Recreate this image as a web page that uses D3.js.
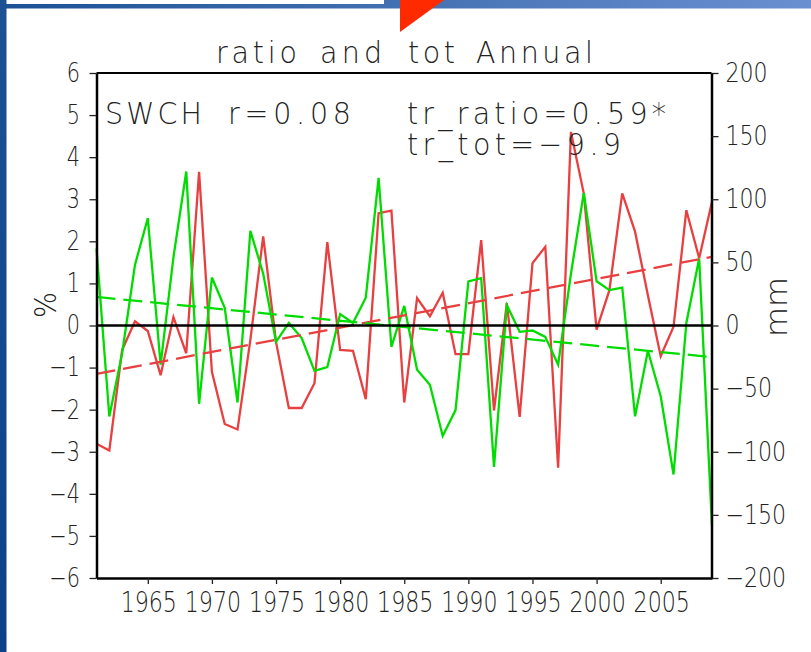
<!DOCTYPE html>
<html>
<head>
<meta charset="utf-8">
<script src="https://cdn.jsdelivr.net/npm/d3@7"></script>
<style>
html, body { margin: 0; padding: 0; background: #fff; }
svg { display: block; }
text { font-family: "DejaVu Sans"; font-weight: 200; fill: #222; }
</style>
</head>
<body>
<div id="plot"></div>
<script>
//values
var years = [1961,1962,1963,1964,1965,1966,1967,1968,1969,1970,
	1971,1972,1973,1974,1975,1976,1977,1978,1979,1980,
	1981,1982,1983,1984,1985,1986,1987,1988,1989,1990,
	1991,1992,1993,1994,1995,1996,1997,1998,1999,2000,
	2001,2002,2003,2004,2005,2006,2007,2008,2009];

//red, left axis (%)
var ratio = [-2.81,-2.97,-0.58,0.1,-0.13,-1.18,0.2,-0.66,3.65,-1.1,
	-2.34,-2.47,-0.34,2.12,-0.39,-1.96,-1.96,-1.37,1.98,-0.58,
	-0.6,-1.75,2.67,2.73,-1.83,0.65,0.22,0.78,-0.68,-0.68,
	2.03,-2.02,0.53,-2.17,1.48,1.87,-3.38,4.6,3.14,-0.1,
	0.84,3.14,2.23,0.72,-0.73,-0.03,2.74,1.6,2.94];

//green, right axis (mm)
var tot = [61,-72,-22,48,85,-31,54,122,-62,38,
	14,-61,75,41,-13,2,-10,-36,-33,9,
	2,22,117,-17,15.5,-35,-47,-87.5,-67,35,
	37.5,-112,16,-5,-4,-9,-31,41,105,35,
	28,30,-72,-20,-56,-118,2,53,-159];

//dashed trend lines, first and last year
var trendYears = [1961, 2009];
var trendRatio = [-1.15, 1.63];
var trendTot = [22.6, -25];

var leftTicks = [-6,-5,-4,-3,-2,-1,0,1,2,3,4,5,6];
var rightTicks = [-200,-150,-100,-50,0,50,100,150,200];
var yearTicks = [1965,1970,1975,1980,1985,1990,1995,2000,2005];

var red = "#e84040", green = "#00dc00";

var width = 811, height = 652;
var margin = {left: 96.5, right: 711.5, top: 73, bottom: 578};

var svg = d3.select("#plot").append("svg")
	.attr("width", width)
	.attr("height", height);

//slide background behind the plot
var defs = svg.append("defs");
var band = defs.append("linearGradient").attr("id", "band");
band.append("stop").attr("offset", "0").attr("stop-color", "#1c5193");
band.append("stop").attr("offset", "1").attr("stop-color", "#6b90d2");
var strip = defs.append("linearGradient").attr("id", "strip")
	.attr("x1", 0).attr("x2", 0).attr("y1", 0).attr("y2", 1);
strip.append("stop").attr("offset", "0").attr("stop-color", "#1c5193");
strip.append("stop").attr("offset", "1").attr("stop-color", "#0d4288");

svg.append("rect").attr("width", width).attr("height", 8.5).attr("fill", "url(#band)");
svg.append("rect").attr("width", 6.5).attr("height", height).attr("fill", "url(#strip)");
svg.append("rect").attr("x", 6.5).attr("width", 377.5).attr("height", 4).attr("fill", "#fff");
svg.append("path").attr("d", "M400,32L400,0L444,0Z").attr("fill", "#ff2a00");

//scales
var x = d3.scaleLinear().domain([1961, 2009]).range([margin.left, margin.right + 0.5]);
var yLeft = d3.scaleLinear().domain([-6, 6]).range([margin.bottom, margin.top]);
var yRight = d3.scaleLinear().domain([-200, 200]).range([margin.bottom, margin.top]);

function minus(d) { return String(d).replace("-", "\u2212"); }

var lineLeft = d3.line().x(function (d) { return x(d[0]); }).y(function (d) { return yLeft(d[1]); });
var lineRight = d3.line().x(function (d) { return x(d[0]); }).y(function (d) { return yRight(d[1]); });

//series
svg.append("path")
	.datum(d3.zip(years, ratio))
	.attr("d", lineLeft)
	.attr("fill", "none").attr("stroke", red).attr("stroke-width", 2.3);
svg.append("path")
	.datum(d3.zip(years, tot))
	.attr("d", lineRight)
	.attr("fill", "none").attr("stroke", green).attr("stroke-width", 2.3);

//trends
svg.append("path")
	.datum(d3.zip(trendYears, trendRatio))
	.attr("d", lineLeft)
	.attr("fill", "none").attr("stroke", red).attr("stroke-width", 2.3)
	.attr("stroke-dasharray", "19,8");
svg.append("path")
	.datum(d3.zip(trendYears, trendTot))
	.attr("d", lineRight)
	.attr("fill", "none").attr("stroke", green).attr("stroke-width", 2.3)
	.attr("stroke-dasharray", "19,8");

//zero line
svg.append("line")
	.attr("x1", margin.left).attr("x2", margin.right)
	.attr("y1", yLeft(0)).attr("y2", yLeft(0))
	.attr("stroke", "#000").attr("stroke-width", 2.5);

//axes
var axisL = d3.axisLeft(yLeft).tickValues(leftTicks).tickFormat(minus).tickSize(7).tickSizeOuter(0);
var axisR = d3.axisRight(yRight).tickValues(rightTicks).tickFormat(minus).tickSize(7).tickSizeOuter(0);
var axisB = d3.axisBottom(x).tickValues(yearTicks).tickFormat(d3.format("d")).tickSize(6).tickSizeOuter(0);

var gL = svg.append("g").attr("transform", "translate(" + margin.left + ",0)").call(axisL);
var gR = svg.append("g").attr("transform", "translate(" + margin.right + ",0)").call(axisR);
var gB = svg.append("g").attr("transform", "translate(0," + margin.bottom + ")").call(axisB);

[gL, gR, gB].forEach(function (g) {
	g.selectAll(".domain").attr("stroke", "#000").attr("stroke-width", 2.5);
	g.selectAll(".tick line").attr("stroke", "#222").attr("stroke-width", 1.3);
	g.selectAll("text").attr("font-size", 26).attr("font-family", null);
});
//tall narrow digits like the original plot font
gL.selectAll("text").attr("x", 0).attr("transform", "translate(-16.5,0) scale(0.8,1)");
gR.selectAll("text").attr("x", 0).attr("transform", "translate(14,0) scale(0.85,1)");
gB.selectAll("text").attr("y", 0).attr("dy", 0).attr("font-size", 28)
	.attr("transform", "translate(0.5,34) scale(0.79,1)");

//top edge
svg.append("line")
	.attr("x1", margin.left).attr("x2", margin.right)
	.attr("y1", margin.top).attr("y2", margin.top)
	.attr("stroke", "#000").attr("stroke-width", 2);

//labels, narrow glyphs spread out to the measured length
var squeeze = 0.92;
function label(txt, px, py, len) {
	return svg.append("text")
		.attr("transform", "translate(" + px + "," + py + ") scale(" + squeeze + ",1)")
		.attr("font-size", 31)
		.attr("textLength", len / squeeze)
		.attr("lengthAdjust", "spacing")
		.text(txt);
}
label("ratio", 216, 63, 81);
label("and", 320, 63, 62);
label("tot", 408, 63, 47);
label("Annual", 476, 63, 117);
label("SWCH", 105, 124, 97);
label("r=0.08", 228, 124, 123);
label("tr_ratio=0.59*", 407, 124, 259);
label("tr_tot=\u22129.9", 407, 155, 214);

svg.append("text")
	.attr("transform", "translate(56,305) rotate(-90)")
	.attr("text-anchor", "middle")
	.attr("font-size", 30)
	.attr("textLength", 26)
	.attr("lengthAdjust", "spacingAndGlyphs")
	.text("%");
svg.append("text")
	.attr("transform", "translate(787,307) rotate(-90)")
	.attr("text-anchor", "middle")
	.attr("font-size", 31)
	.attr("textLength", 60)
	.attr("lengthAdjust", "spacingAndGlyphs")
	.text("mm");
</script>
</body>
</html>
